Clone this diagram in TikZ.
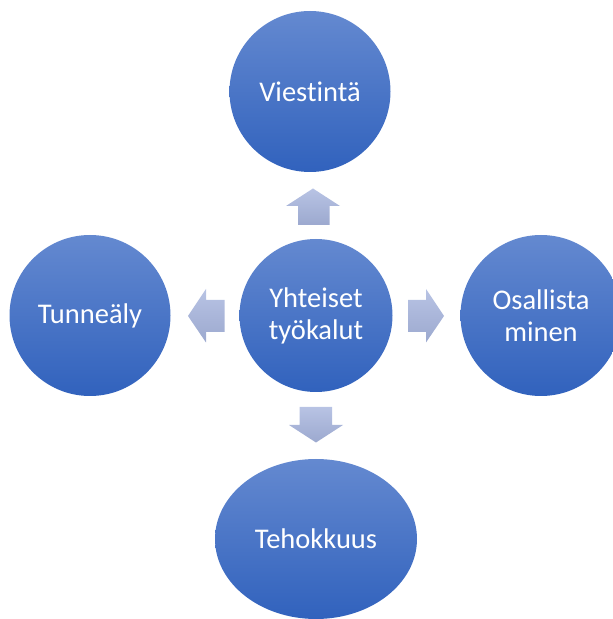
\documentclass[tikz,border=0pt]{standalone}
\usepackage{fontspec}
\usetikzlibrary{shapes.geometric}
\setmainfont{Carlito}[Ligatures=NoCommon]
\definecolor{discTop}{RGB}{100,137,208}
\definecolor{discMid}{RGB}{68,114,196}
\definecolor{discBot}{RGB}{49,98,189}
\definecolor{arrTop}{RGB}{184,195,228}
\definecolor{arrBot}{RGB}{156,169,207}
\tikzset{
  disc/.style={circle, minimum size=161pt, inner sep=0pt,
    top color=discTop, middle color=discMid, bottom color=discBot,
    text=white, align=center,
    font=\fontsize{28.5}{32}\selectfont},
  blockarrow/.style={draw=none, top color=arrTop, bottom color=arrBot}
}
\begin{document}
\begin{tikzpicture}[x=1pt,y=1pt]
  \useasboundingbox (0,0) rectangle (613,619);
  \clip (0,0) rectangle (613,619);
  % centre hub and the four surrounding discs
  \node[disc, minimum size=153pt] (hub) at (316,303.5) {Yhteiset\\työkalut};
  \node[disc] (top) at (310,527.5) {Viestintä};
  \node[disc] (left) at (90,303.5) {Tunneäly};
  \node[disc] (right) at (541,303.5) {Osallista\\minen};
  \node[disc, ellipse, minimum width=202pt, minimum height=160pt] (bottom) at (316,80) {Tehokkuus};
  % block arrows pointing outwards from the hub
  \path[blockarrow] (298,394) -- (298,413) -- (286,413) -- (313,430.5)
    -- (340,413) -- (329.5,413) -- (329.5,394) -- cycle;
  \path[blockarrow] (299.5,212) -- (299.5,194) -- (289,194) -- (316,176.5)
    -- (343,194) -- (332,194) -- (332,212) -- cycle;
  \path[blockarrow] (224.5,319) -- (206,319) -- (206,330) -- (188,303)
    -- (206,276.5) -- (206,287) -- (224.5,287) -- cycle;
  \path[blockarrow] (408,319) -- (426,319) -- (426,330) -- (444,303)
    -- (426,276.5) -- (426,287) -- (408,287) -- cycle;
\end{tikzpicture}
\end{document}
